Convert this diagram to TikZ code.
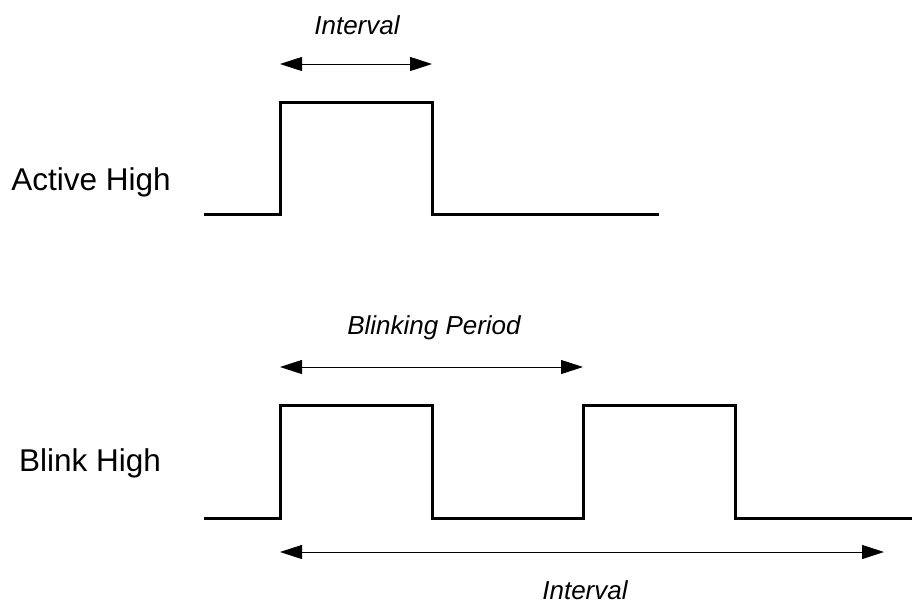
\documentclass[tikz,border=0pt]{standalone}
\usepackage{fontspec}
\setmainfont{Liberation Sans}
\usetikzlibrary{arrows.meta}
\begin{document}
\begin{tikzpicture}[x=1pt,y=-1pt,
  signal/.style={line width=3pt, line join=miter},
  span/.style={line width=1pt, {Triangle[length=22pt,width=14pt]}-{Triangle[length=22pt,width=14pt]}},
  lbl/.style={font=\fontsize{31.5}{36}\selectfont, inner sep=0pt},
  ital/.style={font=\fontsize{26}{30}\selectfont\itshape, inner sep=0pt}]
\useasboundingbox (0,0) rectangle (912,603);
% top signal
\draw[signal] (204,214) -- (280,214) -- (280,102) -- (432,102) -- (432,214) -- (659,214);
\coordinate (a1) at (280,64);
\coordinate (a2) at (432,64);
\draw[span] (a1) -- (a2);
\node[ital] (t1) at (357,25) {Interval};
\node[lbl] (l1) at (91,182) {Active High};
% bottom signal
\draw[signal] (204,518) -- (280,518) -- (280,405) -- (432,405) -- (432,518) -- (583,518) -- (583,405) -- (735,405) -- (735,518) -- (912,518);
\coordinate (b1) at (280,367);
\coordinate (b2) at (583,367);
\draw[span] (b1) -- (b2);
\node[ital] (t2) at (434,328) {Blinking Period};
\coordinate (c1) at (280,552);
\coordinate (c2) at (884,552);
\draw[span] (c1) -- (c2);
\node[ital] (t3) at (585,590) {Interval};
\node[lbl] (l2) at (90,463) {Blink High};
\end{tikzpicture}
\end{document}
